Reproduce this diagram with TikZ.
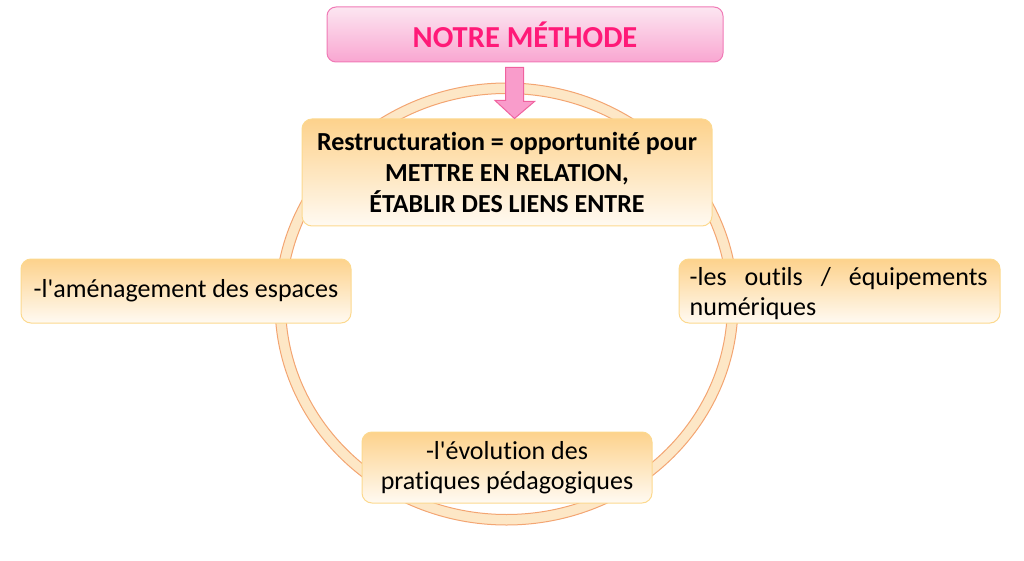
\documentclass[tikz,border=0pt]{standalone}
\usepackage{fontspec}
\setmainfont{Carlito}[Ligatures={TeXOff,NoCommon}]
\definecolor{ringfill}{HTML}{FDE7C6}
\definecolor{ringline}{HTML}{F3A572}
\definecolor{boxtop}{HTML}{FDD28C}
\definecolor{boxbot}{HTML}{FFFAF2}
\definecolor{boxline}{HTML}{FCD98F}
\definecolor{pinktop}{HTML}{FCE6F1}
\definecolor{pinkbot}{HTML}{F9A6D1}
\definecolor{pinkline}{HTML}{F07AB6}
\definecolor{pinktext}{HTML}{FF1A78}
\definecolor{arrowfill}{HTML}{F99CCB}
\definecolor{arrowline}{HTML}{F0629F}
\tikzset{
  obox/.style={draw=boxline, line width=1pt, rounded corners=10pt,
    top color=boxtop, bottom color=boxbot, inner sep=0pt,
    font=\fontsize{26}{30}\selectfont},
  pbox/.style={draw=pinkline, line width=1pt, rounded corners=9pt,
    top color=pinktop, bottom color=pinkbot, inner sep=0pt,
    font=\fontsize{30.5}{34}\selectfont\bfseries, text=pinktext},
}
\begin{document}
\begin{tikzpicture}[x=1pt,y=-1pt]
\useasboundingbox (0,0) rectangle (1024,561);
% ring
\fill[ringfill, even odd rule] (506.5,304) ellipse [x radius=231.5, y radius=221]
  (506.5,304) ellipse [x radius=221, y radius=210.5];
\draw[ringline, line width=1pt] (506.5,304) ellipse [x radius=231.5, y radius=221];
\draw[ringline, line width=1pt] (506.5,304) ellipse [x radius=221, y radius=210.5];
% title
\node[pbox, minimum width=396pt, minimum height=55pt] (title) at (525,34.5) {NOTRE MÉTHODE};
% central box
\node[obox, minimum width=410pt, minimum height=107pt, align=center,
  font=\fontsize{26}{31}\selectfont\bfseries] (center) at (507,172.5)
  {Restructuration = opportunité pour\\METTRE EN RELATION,\\ÉTABLIR DES LIENS ENTRE};
% arrow
\coordinate (tip) at ([xshift=7.5pt]center.north);
\draw[arrowline, fill=arrowfill, line width=1pt, line join=miter]
  ([xshift=-9pt]tip |- title.south) ++(0,5) -- ++(18,0) -- ++(0,34) -- ++(11,0)
  -- (tip) -- ++(-19.5,-18) -- ++(10.5,0) -- cycle;
% left
\node[obox, minimum width=330pt, minimum height=64pt] (left) at (186,291)
  {-l'aménagement des espaces};
% right
\node[obox, minimum width=321pt, minimum height=64pt] (right) at (839.5,291) {};
\node[anchor=west, text width=298pt, align=justify, inner sep=0pt,
  font=\fontsize{26}{30}\selectfont] (righttext) at ([xshift=11pt,yshift=-3pt]right.west)
  {\hyphenpenalty=10000\exhyphenpenalty=10000 -les outils / équipements numériques};
% bottom
\node[obox, minimum width=290pt, minimum height=71pt, align=center] (bottom) at (507,467.5)
  {-l'évolution des\\pratiques pédagogiques};
\end{tikzpicture}
\end{document}
